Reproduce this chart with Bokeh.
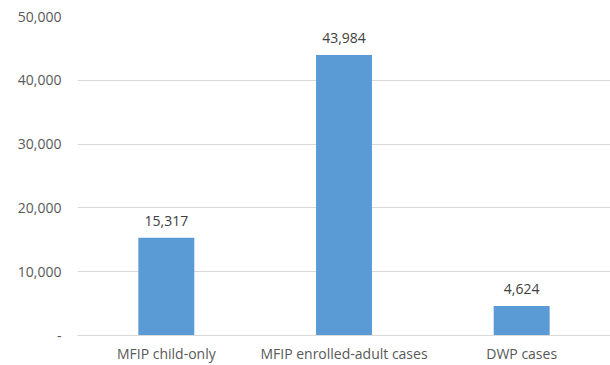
from bokeh.plotting import figure
from bokeh.models import ColumnDataSource, FactorRange, NumeralTickFormatter, Range1d, FixedTicker
from bokeh.core.properties import value
from bokeh.embed import file_html
from bokeh.resources import INLINE

categories = ["MFIP child-only", "MFIP enrolled-adult cases", "DWP cases"]
counts = [15317, 43984, 4624]
count_labels = ["15,317", "43,984", "4,624"]
y_ticks = [0, 10000, 20000, 30000, 40000, 50000]

FONT = "Open Sans"
SIZE = "14px"
src = ColumnDataSource(dict(cat=categories, val=counts, lab=count_labels))

p = figure(width=610, height=365, x_range=FactorRange(*categories),
           y_range=Range1d(0, 50000), output_backend="svg", toolbar_location=None,
           min_border_left=77, min_border_right=0, min_border_top=16, min_border_bottom=29)
p.outline_line_color = None
p.background_fill_color = "white"
p.border_fill_color = "white"

p.vbar(x="cat", top="val", width=0.315, source=src, color="#5B9BD5", line_color=None)
p.text(x="cat", y="val", text="lab", source=src, text_align="center", text_baseline="middle",
       y_offset=-17, text_font=value(FONT), text_font_size=SIZE, text_color="#404040")

ticker = FixedTicker(ticks=y_ticks)
p.xgrid.grid_line_color = None
p.ygrid.ticker = ticker
p.ygrid.grid_line_color = "#D9D9D9"
p.ygrid.grid_line_width = 1
p.yaxis.ticker = ticker
p.yaxis.formatter = NumeralTickFormatter(format="0,0")
p.yaxis.major_label_overrides = {0: "-"}
p.yaxis.axis_line_color = None
p.yaxis.major_tick_line_color = None
p.yaxis.minor_tick_line_color = None
p.yaxis.major_tick_out = 0
p.yaxis.major_tick_in = 0
p.yaxis.minor_tick_out = 0
p.yaxis.major_label_standoff = 16
p.yaxis.major_label_text_font = FONT
p.yaxis.major_label_text_font_size = SIZE
p.yaxis.major_label_text_color = "#595959"

p.xaxis.axis_line_color = "#D9D9D9"
p.xaxis.major_tick_line_color = None
p.xaxis.minor_tick_line_color = None
p.xaxis.major_tick_out = 0
p.xaxis.major_tick_in = 0
p.xaxis.minor_tick_out = 0
p.xaxis.major_label_standoff = 8
p.xaxis.major_label_text_font = FONT
p.xaxis.major_label_text_font_size = SIZE
p.xaxis.major_label_text_color = "#595959"

open("out.html", "w").write(file_html(p, INLINE))
